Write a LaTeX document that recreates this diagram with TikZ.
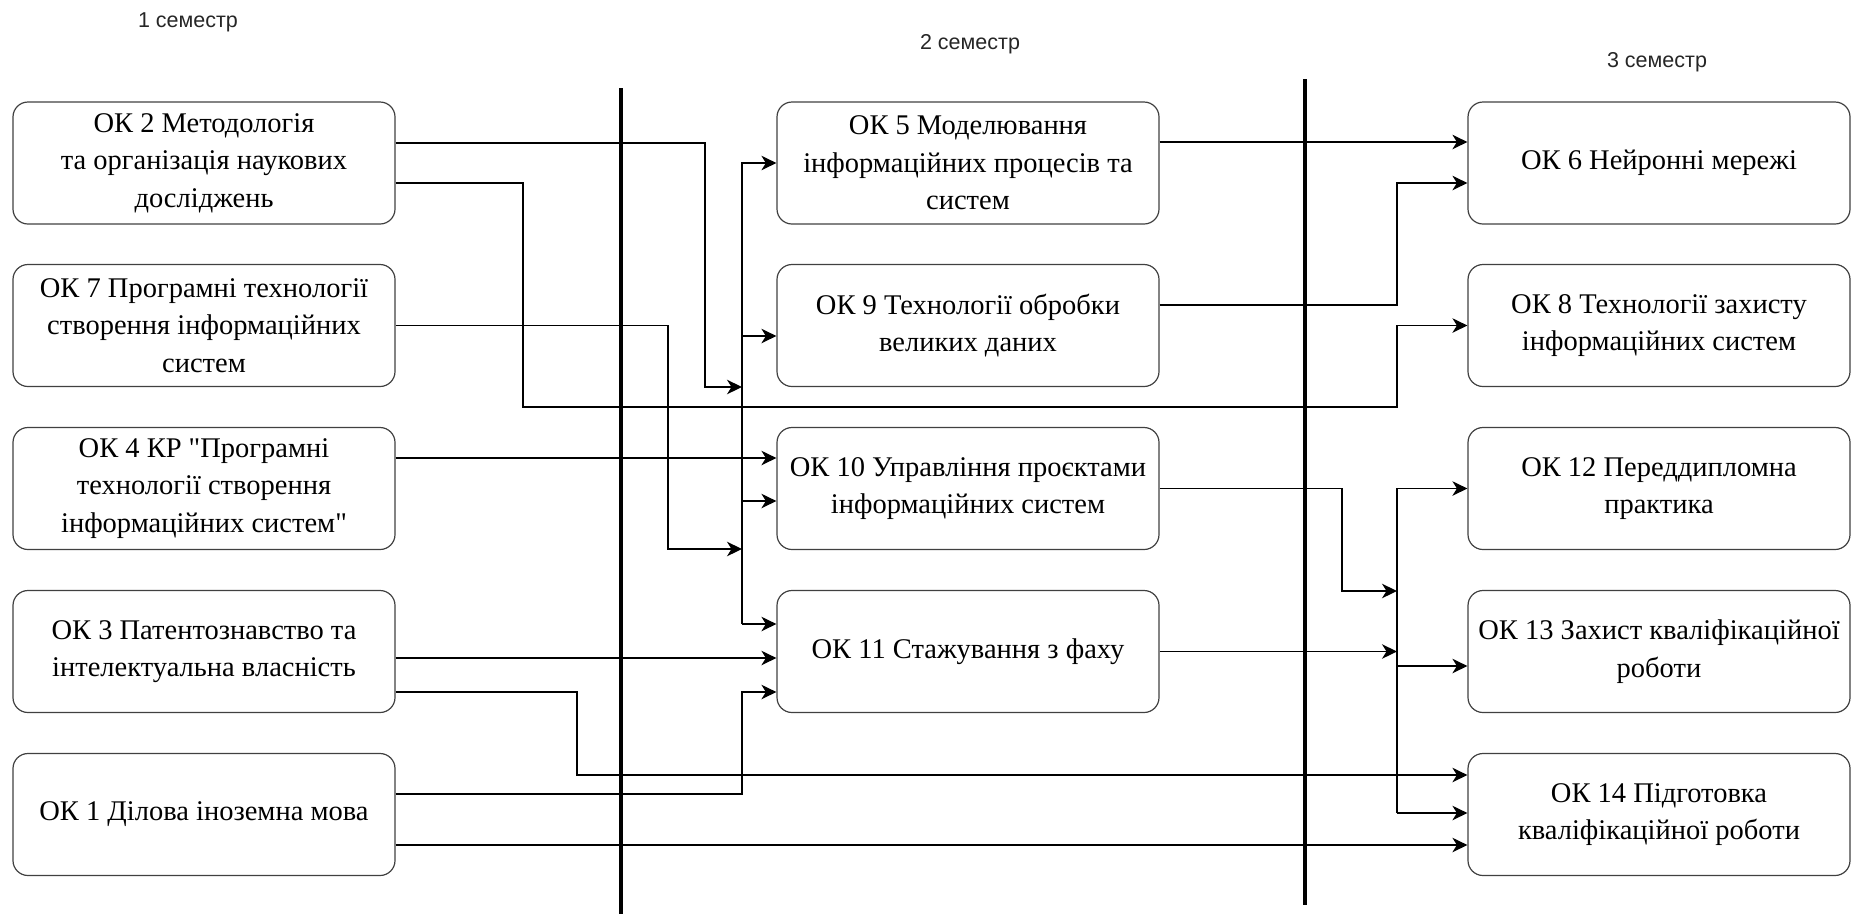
\documentclass[tikz,border=0pt]{standalone}
\usepackage{fontspec}
\newfontfamily\boxfont{Liberation Serif}
\newfontfamily\semfont{Liberation Sans}
\usetikzlibrary{arrows.meta,calc}
\begin{document}
\begin{tikzpicture}[x=1pt,y=-1pt,
  box/.style={draw=black!75, line width=1.2pt, rounded corners=15pt, minimum width=382pt, minimum height=122pt, align=center, inner sep=1pt, font=\boxfont\fontsize{28.5}{37.5}\selectfont},
  sem/.style={font=\semfont\fontsize{21.5}{24}\selectfont, text=black!85},
  conn/.style={line width=1.3pt},
  arr/.style={conn, -{Stealth[length=15pt,width=14.5pt,inset=4.5pt]}},
  divider/.style={line width=4pt}]
\useasboundingbox (0,0) rectangle (1854,914);

% semester labels
\node[sem] (s1) at (188,22) {1 семестр};
\node[sem] (s2) at (970,44) {2 семестр};
\node[sem] (s3) at (1657,62) {3 семестр};

% dividers
\coordinate (d1t) at (621,88); \coordinate (d1b) at (621,914);
\coordinate (d2t) at (1305,79); \coordinate (d2b) at (1305,905);
\draw[divider] (d1t) -- (d1b);
\draw[divider] (d2t) -- (d2b);

% boxes
\node[box] (ok2) at (204,163) {ОК 2 Методологія\\та організація наукових\\досліджень};
\node[box] (ok7) at (204,325.5) {ОК 7 Програмні технології\\створення інформаційних\\систем};
\node[box] (ok4) at (204,488.5) {ОК 4 КР "Програмні\\технології створення\\інформаційних систем"};
\node[box] (ok3) at (204,651.5) {ОК 3 Патентознавство та\\інтелектуальна власність};
\node[box] (ok1) at (204,814.5) {ОК 1 Ділова іноземна мова};

\node[box] (ok5) at (968,163) {ОК 5 Моделювання\\інформаційних процесів та\\систем};
\node[box] (ok9) at (968,325.5) {ОК 9 Технології обробки\\великих даних};
\node[box] (ok10) at (968,488.5) {ОК 10 Управління проєктами\\інформаційних систем};
\node[box] (ok11) at (968,651.5) {ОК 11 Стажування з фаху};

\node[box] (ok6) at (1659,163) {ОК 6 Нейронні мережі};
\node[box] (ok8) at (1659,325.5) {ОК 8 Технології захисту\\інформаційних систем};
\node[box] (ok12) at (1659,488.5) {ОК 12 Переддипломна\\практика};
\node[box] (ok13) at (1659,651.5) {ОК 13 Захист кваліфікаційної\\роботи};
\node[box] (ok14) at (1659,814.5) {ОК 14 Підготовка\\кваліфікаційної роботи};

% bus positions
\coordinate (busL) at (742,0);
\coordinate (busR) at (1397,0);

% left bus and its branches
\coordinate (i9) at ([yshift=-10.5pt]ok9.west);
\coordinate (i10) at ([yshift=-12.5pt]ok10.west);
\coordinate (i11a) at ([yshift=27.5pt]ok11.west);
\draw[arr] (i11a -| busL) |- (ok5.west);
\draw[arr] (i9 -| busL) -- (i9);
\draw[arr] (i10 -| busL) -- (i10);
\draw[arr] (i11a -| busL) -- (i11a);

% OK2 -> left bus
\coordinate (o2a) at ([yshift=20pt]ok2.east);
\coordinate (t2a) at (705,387);
\draw[arr] (o2a) -| (t2a) -- (t2a -| busL);

% OK2 -> OK8
\coordinate (o2b) at ([yshift=-20pt]ok2.east);
\coordinate (t2b) at (523,407);
\draw[arr] (o2b) -| (t2b) -| (ok8.west -| busR) -- (ok8.west);

% OK7 -> left bus
\coordinate (t7) at (668,549);
\draw[arr] (ok7.east) -| (t7) -- (t7 -| busL);

% OK4 -> OK10
\coordinate (o4) at ([yshift=30.5pt]ok4.east);
\draw[arr] (o4) -- (o4 -| ok10.west);

% OK3 -> OK11
\coordinate (o3a) at ([yshift=-6.5pt]ok3.east);
\draw[arr] (o3a) -- (o3a -| ok11.west);

% OK3 -> OK14
\coordinate (o3b) at ([yshift=-40.5pt]ok3.east);
\coordinate (t3b) at (577,775);
\draw[arr] (o3b) -| (t3b) -- (t3b -| ok14.west);

% OK1 -> OK11
\coordinate (o1a) at ([yshift=20.5pt]ok1.east);
\coordinate (i11b) at ([yshift=-40.5pt]ok11.west);
\draw[arr] (o1a) -| (i11b -| busL) -- (i11b);

% OK1 -> OK14
\coordinate (o1b) at ([yshift=-30.5pt]ok1.east);
\draw[arr] (o1b) -- (o1b -| ok14.west);

% OK5 -> OK6
\coordinate (o5) at ([yshift=21pt]ok5.east);
\draw[arr] (o5) -- (o5 -| ok6.west);

% OK9 -> OK6
\coordinate (o9) at ([yshift=20.5pt]ok9.east);
\coordinate (i6b) at ([yshift=-20pt]ok6.west);
\draw[arr] (o9) -| (i6b -| busR) -- (i6b);

% OK10 -> right bus
\coordinate (t10) at (1342,591);
\draw[arr] (ok10.east) -| (t10) -- (t10 -| busR);

% OK11 -> right bus
\draw[arr] (ok11.east) -- (ok11.east -| busR);

% right bus and its branches
\coordinate (i13) at ([yshift=-14.5pt]ok13.west);
\coordinate (i14) at ([yshift=1.5pt]ok14.west);
\draw[arr] (i14 -| busR) |- (ok12.west);
\draw[arr] (i13 -| busR) -- (i13);
\draw[arr] (i14 -| busR) -- (i14);
\end{tikzpicture}
\end{document}
